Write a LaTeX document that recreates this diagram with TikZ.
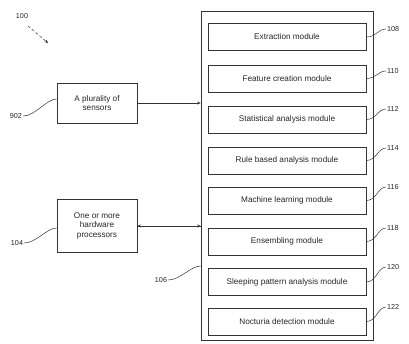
\documentclass[tikz,border=0pt]{standalone}
\usepackage{fontspec}
\setmainfont{Liberation Sans}
\usetikzlibrary{arrows.meta}
\begin{document}
\begin{tikzpicture}[x=1pt,y=-1pt,
  every node/.style={font=\fontsize{8.2}{9.5}\selectfont, text=black!85},
  line/.style={draw=black!80, line width=0.7pt},
  modbox/.style={line, minimum width=158pt, minimum height=27pt, inner sep=0pt},
  sidebox/.style={line, minimum width=80pt, inner sep=0pt, align=center},
  refnum/.style={inner sep=1pt, font=\fontsize{7.2}{8}\selectfont},
  leader/.style={draw=black!80, line width=0.5pt},
  tip/.style={-{Stealth[length=3.5pt,width=3pt]}}
]
\useasboundingbox (0,0) rectangle (409,344);
% outer system box
\node[line, minimum width=172pt, minimum height=329pt, inner sep=0pt] (sys) at (287,175.5) {};
% modules
\node[modbox] (m1) at (287,37) {Extraction module};
\node[modbox] (m2) at (287,78.5) {Feature creation module};
\node[modbox] (m3) at (287,119.5) {Statistical analysis module};
\node[modbox] (m4) at (287,160.5) {Rule based analysis module};
\node[modbox] (m5) at (287,200.5) {Machine learning module};
\node[modbox] (m6) at (287,241.5) {Ensembling module};
\node[modbox] (m7) at (287,282) {Sleeping pattern analysis module};
\node[modbox] (m8) at (287,321.5) {Nocturia detection module};
% reference numerals for modules
\node[refnum, anchor=west] (r108) at (386,29) {108};
\node[refnum, anchor=west] (r110) at (386,71) {110};
\node[refnum, anchor=west] (r112) at (386,109) {112};
\node[refnum, anchor=west] (r114) at (386,148) {114};
\node[refnum, anchor=west] (r116) at (386,187) {116};
\node[refnum, anchor=west] (r118) at (386,228) {118};
\node[refnum, anchor=west] (r120) at (386,267) {120};
\node[refnum, anchor=west] (r122) at (386,307) {122};
\foreach \m/\r in {m1/r108,m2/r110,m3/r112,m4/r114,m5/r116,m6/r118,m7/r120,m8/r122}{
  \draw[leader] (\m.east) .. controls +(10,0) and +(-8,0) .. (\r.west);
}
% side boxes
\node[sidebox, minimum height=40pt] (sens) at (97,103) {A plurality of\\sensors};
\node[sidebox, minimum height=53pt] (proc) at (97,225.5) {One or more\\hardware\\processors};
\draw[line, tip] (sens.east) -- (sens.east -| sys.west);
\draw[line, tip] (proc.east |- 0,226) coordinate (pe) -- (pe -| sys.west);
\draw[line, tip] (pe -| sys.west) -- (pe);
% reference numerals for side boxes
\node[refnum] (r902) at (16,116) {902};
\node[refnum] (r104) at (17,243) {104};
\node[refnum] (r106) at (161,280) {106};
\draw[leader] (r902.east) .. controls +(12,0) and +(-10,0) .. (sens.west |- 0,99);
\draw[leader] (r104.east) .. controls +(12,0) and +(-10,0) .. (proc.west |- 0,228);
\draw[leader] (r106.east) .. controls +(12,0) and +(-10,0) .. (sys.west |- 0,266);
% figure numeral
\node[refnum] (r100) at (22,16) {100};
\coordinate (a100) at (48,43);
\draw[leader, densely dashed, tip] (28,26) -- (a100);
\end{tikzpicture}
\end{document}
